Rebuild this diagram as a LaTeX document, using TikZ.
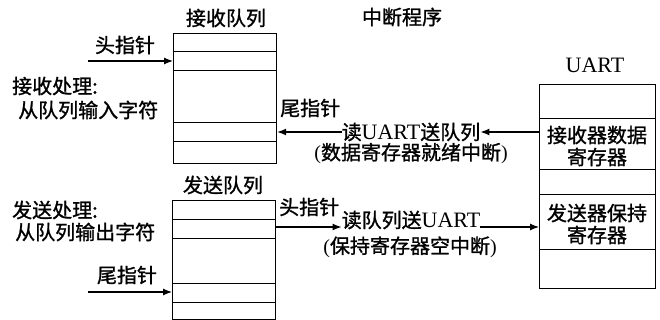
\documentclass[tikz,border=0pt]{standalone}
\usepackage{fontspec}
\setmainfont{Noto Sans CJK SC}[FakeBold=1.2]
\newfontfamily\lat{Liberation Serif}
\usetikzlibrary{arrows.meta,calc}
\begin{document}
\begin{tikzpicture}[x=1pt,y=-1pt,
  box/.style={draw,line width=1.2pt,inner sep=0pt,anchor=north west},
  sep/.style={line width=1pt},
  arr/.style={line width=1.2pt,-{Latex[length=9pt,width=7pt]}},
  lbl/.style={font=\fontsize{20}{22}\selectfont,inner sep=0pt},
  latl/.style={font=\fontsize{22}{22}\selectfont\lat,inner sep=0pt}]
\useasboundingbox (0,0) rectangle (660,320);
% boxes
\node[box,minimum width=103pt,minimum height=130pt] (rq) at (173,33) {};
\node[box,minimum width=103pt,minimum height=119pt] (sq) at (172,200) {};
\node[box,minimum width=116pt,minimum height=204pt] (uart) at (539,84) {};
% separators
\foreach \d in {19,38,90,109}
  \draw[sep] ($(rq.north west)+(0,\d)$) -- ($(rq.north east)+(0,\d)$);
\foreach \d in {19,38,83,102}
  \draw[sep] ($(sq.north west)+(0,\d)$) -- ($(sq.north east)+(0,\d)$);
\foreach \d in {35,86,111,165}
  \draw[sep] ($(uart.north west)+(0,\d)$) -- ($(uart.north east)+(0,\d)$);
% titles
\node[lbl] (rqt) at (226,18) {接收队列};
\node[lbl] (isr) at (402,17) {中断程序};
\node[latl] (uartt) at (595,65) {UART};
\node[lbl] (sqt) at (223,185) {发送队列};
% uart contents
\node[lbl,align=center] (rdr) at (597,146) {接收器数据\\寄存器};
\node[lbl,align=center] (thr) at (597,224) {发送器保持\\寄存器};
% left labels
\node[lbl] (rqhl) at (125,45) {头指针};
\node[lbl,anchor=west] (rxp) at (12,86) {接收处理:};
\node[lbl,anchor=west] (rxp2) at (18,110) {从队列输入字符};
\node[lbl,anchor=west] (txp) at (12,210) {发送处理:};
\node[lbl,anchor=west] (txp2) at (15,232) {从队列输出字符};
\node[lbl] (sqtl) at (127,275) {尾指针};
% middle labels
\node[lbl,anchor=west] (rqtl) at (280,108) {尾指针};
\node[lbl] (readu) at (411,132) {读{\fontsize{22}{22}\selectfont\lat UART}送队列};
\node[lbl] (rdint) at (411,153.5) {{\lat (}数据寄存器就绪中断{\lat )}};
\node[lbl,anchor=west] (sqhl) at (279,207) {头指针};
\node[lbl] (readq) at (411,220) {读队列送{\fontsize{22}{22}\selectfont\lat UART}};
\node[lbl] (txint) at (410,247) {{\lat (}保持寄存器空中断{\lat )}};
% connectors
\coordinate (rqh) at (88,61);
\draw[arr] (rqh) -- (rqh -| rq.west);
\draw[arr] (uart.west |- readu) -- (readu.east);
\draw[arr] (readu.west) -- (readu.west -| rq.east);
\coordinate (sqh) at (275,227);
\draw[arr] (sqh) -- (sqh -| readq.west);
\draw[arr] (readq.east |- sqh) -- (sqh -| uart.west);
\coordinate (sqtail) at (88,292);
\draw[arr] (sqtail) -- (sqtail -| sq.west);
\end{tikzpicture}
\end{document}
